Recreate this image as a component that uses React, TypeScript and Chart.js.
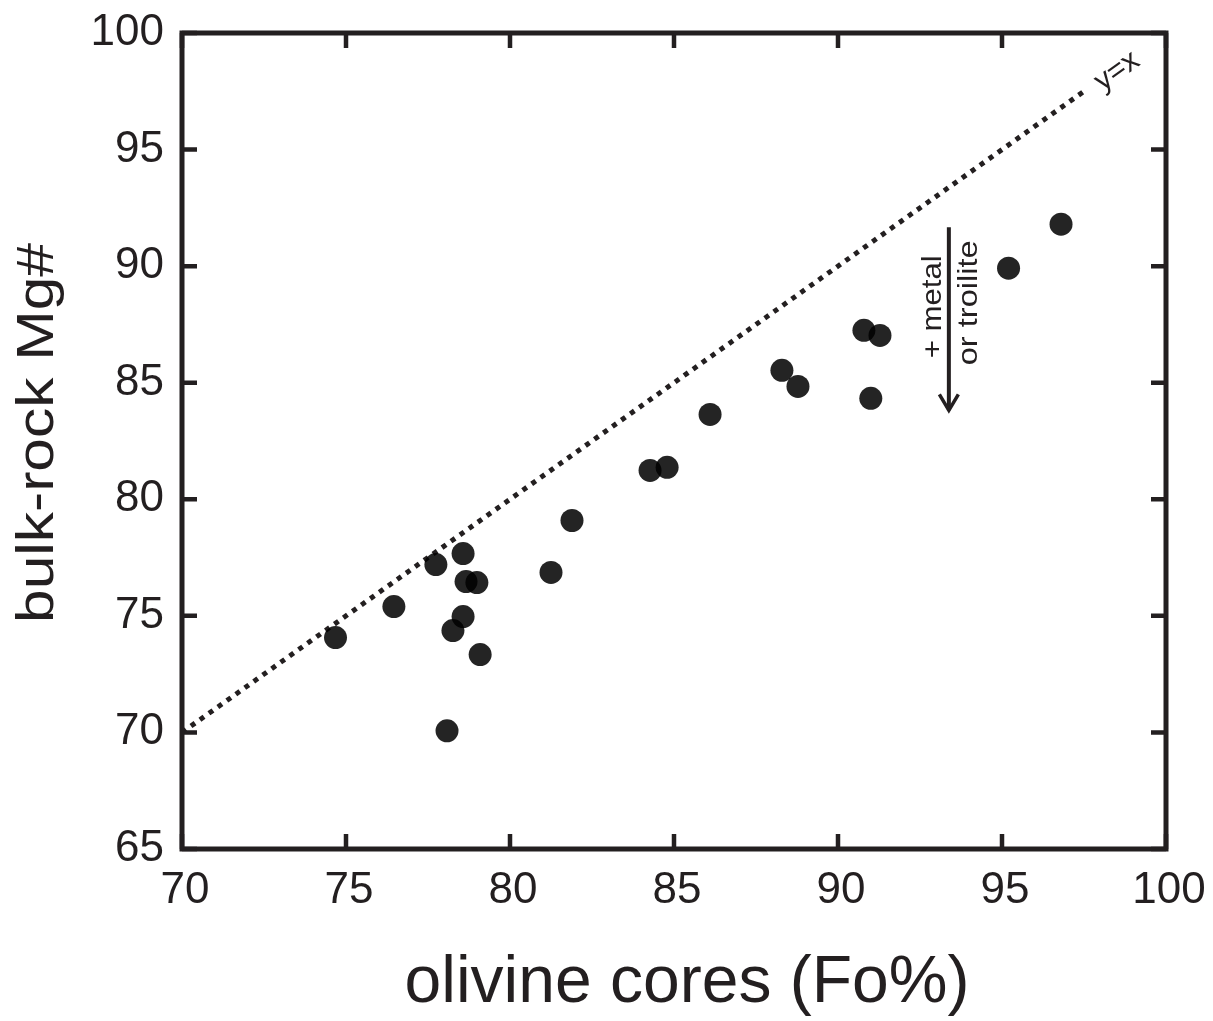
import React, { useEffect, useRef } from "react";
import { Chart, registerables } from "chart.js";

Chart.register(...registerables);

// ---- data ----
const olivineFo = [74.68, 76.46, 77.74, 78.57, 78.66, 78.99, 78.57, 78.26, 79.09, 78.08, 81.25, 81.89, 84.27, 84.79, 86.1, 88.29, 88.78, 90.79, 91.28, 91.0, 95.2, 96.8];
const bulkMg = [74.07, 75.4, 77.2, 77.67, 76.47, 76.43, 74.97, 74.37, 73.34, 70.07, 76.86, 79.09, 81.24, 81.37, 83.64, 85.53, 84.84, 87.25, 87.03, 84.33, 89.91, 91.8];
const oneToOneX = [70, 97.5];
const oneToOneY = [70, 97.5];
const xTicks = [70, 75, 80, 85, 90, 95, 100];
const yTicks = [65, 70, 75, 80, 85, 90, 95, 100];
const arrowX = [93.38];
const arrowY = [91.67, 83.73];
const xTitle = "olivine cores (Fo%)";
const yTitle = "bulk-rock Mg#";
const lineLabel = "y=x";
const arrowLabels = ["+ metal", "or troilite"];

const INK = "#231f20";
const FONT = "'Liberation Sans', Arial, Helvetica, sans-serif";

function drawText(ctx: CanvasRenderingContext2D, text: string, size: number, x: number, y: number, angle: number, targetLen: number | null) {
  ctx.save();
  ctx.font = `${size}px ${FONT}`;
  ctx.fillStyle = INK;
  ctx.textAlign = "center";
  ctx.textBaseline = "alphabetic";
  ctx.translate(x, y);
  ctx.rotate(angle);
  if (targetLen) {
    const w = ctx.measureText(text).width;
    ctx.scale(targetLen / w, 1);
  }
  ctx.fillText(text, 0, 0);
  ctx.restore();
}

const framePlugin = {
  id: "frame",
  afterDraw(chart: any) {
    const { ctx, chartArea } = chart;
    const xs = chart.scales.x;
    const ys = chart.scales.y;
    const { left, right, top, bottom } = chartArea;
    ctx.save();
    ctx.strokeStyle = INK;
    ctx.lineCap = "butt";
    ctx.lineWidth = 4.5;
    const tl = 15;
    ctx.beginPath();
    xTicks.forEach((v) => {
      const px = xs.getPixelForValue(v);
      ctx.moveTo(px, bottom);
      ctx.lineTo(px, bottom - tl);
      ctx.moveTo(px, top);
      ctx.lineTo(px, top + tl);
    });
    yTicks.forEach((v) => {
      const py = ys.getPixelForValue(v);
      ctx.moveTo(left, py);
      ctx.lineTo(left + tl, py);
      ctx.moveTo(right, py);
      ctx.lineTo(right - tl, py);
    });
    ctx.stroke();
    ctx.lineWidth = 5;
    ctx.lineJoin = "miter";
    ctx.strokeRect(left, top, right - left, bottom - top);

    // tick labels
    ctx.fillStyle = INK;
    ctx.font = `44px ${FONT}`;
    ctx.textBaseline = "alphabetic";
    ctx.textAlign = "center";
    xTicks.forEach((v) => {
      ctx.fillText(String(v), xs.getPixelForValue(v) + 3, bottom + 54);
    });
    ctx.textAlign = "right";
    yTicks.forEach((v) => {
      ctx.fillText(String(v), left - 18, ys.getPixelForValue(v) + 12);
    });

    // arrow
    const ax = xs.getPixelForValue(arrowX[0]);
    const ay1 = ys.getPixelForValue(arrowY[0]);
    const ay2 = ys.getPixelForValue(arrowY[1]);
    ctx.lineWidth = 4;
    ctx.beginPath();
    ctx.moveTo(ax, ay1);
    ctx.lineTo(ax, ay2 - 2);
    ctx.stroke();
    ctx.lineWidth = 3.5;
    ctx.beginPath();
    ctx.moveTo(ax - 9.5, ay2 - 18);
    ctx.lineTo(ax, ay2 - 2);
    ctx.lineTo(ax + 9.5, ay2 - 18);
    ctx.stroke();
    ctx.restore();

    const midY = (ay1 + ay2) / 2;
    drawText(ctx, arrowLabels[0], 28, ax - 8, midY - 13, -Math.PI / 2, 103);
    drawText(ctx, arrowLabels[1], 28, ax + 28, midY - 17, -Math.PI / 2, 125);

    // y=x label
    const p1x = xs.getPixelForValue(oneToOneX[0]);
    const p1y = ys.getPixelForValue(oneToOneY[0]);
    const p2x = xs.getPixelForValue(oneToOneX[1]);
    const p2y = ys.getPixelForValue(oneToOneY[1]);
    const ang = Math.atan2(p2y - p1y, p2x - p1x);
    ctx.save();
    ctx.font = `30px ${FONT}`;
    ctx.fillStyle = INK;
    ctx.textAlign = "center";
    ctx.textBaseline = "middle";
    ctx.translate(p2x + 33, p2y - 20);
    ctx.rotate(ang);
    ctx.fillText(lineLabel, 0, 0);
    ctx.restore();

    drawText(ctx, xTitle, 66, (left + right) / 2 + 13, 1002, 0, null);
    drawText(ctx, yTitle, 52, 53, 433, -Math.PI / 2, 380);
  },
};

export default function App() {
  const ref = useRef<HTMLCanvasElement | null>(null);
  useEffect(() => {
    if (!ref.current) return;
    const chart = new Chart(ref.current, {
      type: "scatter",
      data: {
        datasets: [
          {
            label: "samples",
            data: olivineFo.map((x, i) => ({ x, y: bulkMg[i] })),
            backgroundColor: "rgba(0,0,0,0.86)",
            borderWidth: 0,
            pointRadius: 11.5,
            pointHoverRadius: 11.5,
          },
          {
            type: "line",
            label: "y=x",
            data: oneToOneX.map((x, i) => ({ x, y: oneToOneY[i] })),
            borderColor: INK,
            borderWidth: 5,
            borderDash: [5, 6],
            borderCapStyle: "butt",
            pointRadius: 0,
            fill: false,
          } as any,
        ],
      },
      options: {
        responsive: false,
        animation: false,
        events: [],
        layout: { padding: { top: 33, right: 47, left: 0, bottom: 0 } },
        plugins: { legend: { display: false }, tooltip: { enabled: false }, title: { display: false } },
        scales: {
          x: {
            type: "linear",
            min: 70,
            max: 100,
            afterFit: (s: any) => {
              s.height = 172;
            },
            afterBuildTicks: (s: any) => {
              s.ticks = xTicks.map((v) => ({ value: v }));
            },
            grid: { display: false, drawTicks: false },
            border: { display: false },
            ticks: { display: false },
          },
          y: {
            type: "linear",
            min: 65,
            max: 100,
            afterFit: (s: any) => {
              s.width = 182;
            },
            afterBuildTicks: (s: any) => {
              s.ticks = yTicks.map((v) => ({ value: v }));
            },
            grid: { display: false, drawTicks: false },
            border: { display: false },
            ticks: { display: false },
          },
        },
      },
      plugins: [framePlugin],
    });
    return () => chart.destroy();
  }, []);
  return (
    <div style={{ position: "absolute", left: 0, top: 0, width: 1213, height: 1021, background: "#fff" }}>
      <canvas ref={ref} width={1213} height={1021} style={{ display: "block" }} />
    </div>
  );
}
